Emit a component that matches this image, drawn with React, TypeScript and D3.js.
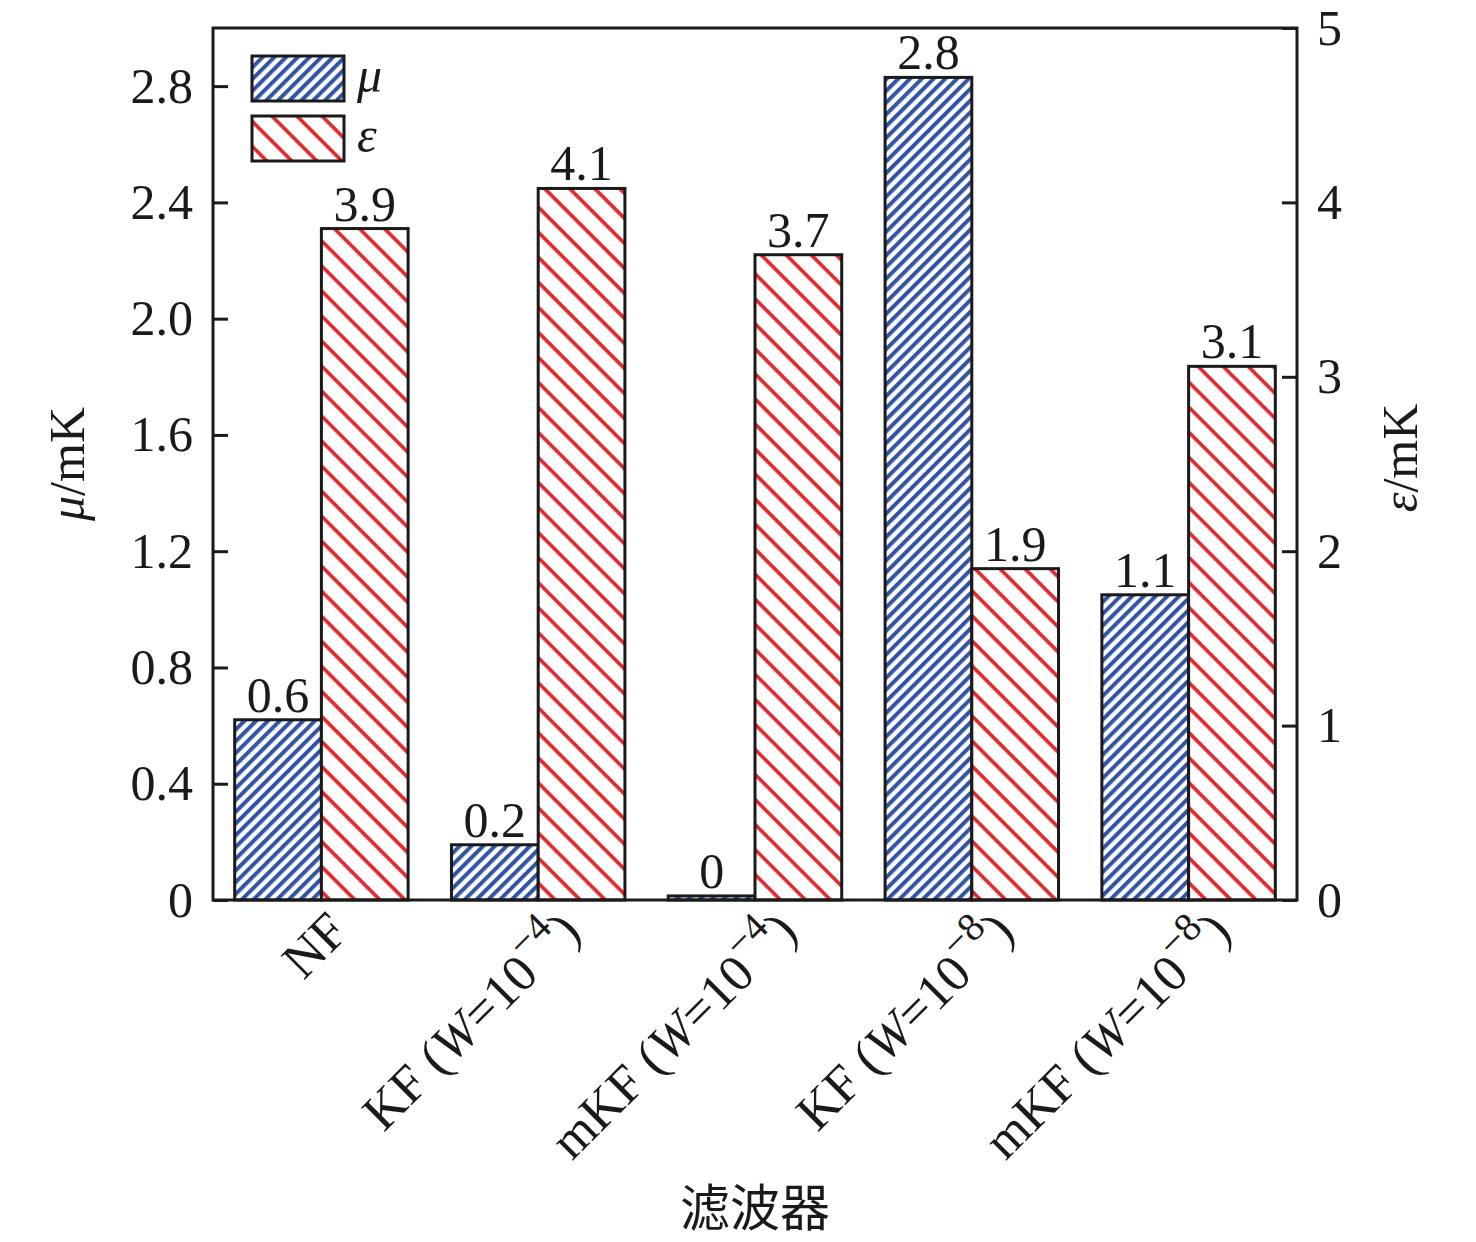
import React, { useEffect, useRef } from 'react';
import * as d3 from 'd3';

// filters on the x axis
const filters = ['NF', 'KF1', 'mKF1', 'KF2', 'mKF2'];
const filterNames = ['NF', 'KF', 'mKF', 'KF', 'mKF'];
const filterExps = ['', '−4', '−4', '−8', '−8'];

// mean error μ (left axis) and its labels
const muValues = [0.62, 0.19, 0.014, 2.83, 1.05];
const muLabels = ['0.6', '0.2', '0', '2.8', '1.1'];

// error ε (right axis) and its labels
const epsValues = [3.85, 4.08, 3.7, 1.9, 3.06];
const epsLabels = ['3.9', '4.1', '3.7', '1.9', '3.1'];

const leftTicks = [0, 0.4, 0.8, 1.2, 1.6, 2.0, 2.4, 2.8];
const rightTicks = [0, 1, 2, 3, 4, 5];

const W = 1476;
const H = 1242;
const margin = { top: 28, right: 179, bottom: 342, left: 213 };
const FONT = '"Liberation Serif", "Times New Roman", serif';
const BLUE = '#3354a5';
const RED = '#e0262a';
const INK = '#1a1a1a';

const App: React.FC = () => {
  const svgRef = useRef<SVGSVGElement>(null);

  useEffect(() => {
    document.body.style.margin = '0';
    if (!svgRef.current) return;
    const svg = d3.select(svgRef.current);
    svg.selectAll('*').remove();

    const x0 = margin.left;
    const x1 = W - margin.right;
    const y0 = H - margin.bottom;
    const y1 = margin.top;

    const xScale = d3.scaleBand<string>().domain(filters).range([x0, x1]).paddingInner(0.2).paddingOuter(0.1);
    const sub = d3.scaleBand<string>().domain(['mu', 'eps']).range([0, xScale.bandwidth()]);
    const yLeft = d3.scaleLinear().domain([0, 3]).range([y0, y1]);
    const yRight = d3.scaleLinear().domain([0, 5]).range([y0, y1]);

    // hatch patterns
    const defs = svg.append('defs');
    const blue = defs.append('pattern')
      .attr('id', 'hatchBlue')
      .attr('patternUnits', 'userSpaceOnUse')
      .attr('width', 8.3).attr('height', 8.3)
      .attr('patternTransform', 'rotate(45)');
    blue.append('rect').attr('width', 8.3).attr('height', 8.3).attr('fill', '#fff');
    blue.append('line').attr('x1', 2).attr('x2', 2).attr('y1', 0).attr('y2', 8.3)
      .attr('stroke', BLUE).attr('stroke-width', 4);

    const red = defs.append('pattern')
      .attr('id', 'hatchRed')
      .attr('patternUnits', 'userSpaceOnUse')
      .attr('width', 17.7).attr('height', 17.7)
      .attr('patternTransform', 'rotate(-45)');
    red.append('rect').attr('width', 17.7).attr('height', 17.7).attr('fill', '#fff');
    red.append('line').attr('x1', 4).attr('x2', 4).attr('y1', 0).attr('y2', 17.7)
      .attr('stroke', RED).attr('stroke-width', 3.6);

    const g = svg.append('g');

    // bars
    filters.forEach((f, i) => {
      const bx = xScale(f)!;
      g.append('rect')
        .attr('x', bx + sub('mu')!)
        .attr('y', yLeft(muValues[i]))
        .attr('width', sub.bandwidth())
        .attr('height', y0 - yLeft(muValues[i]))
        .attr('fill', 'url(#hatchBlue)')
        .attr('stroke', INK).attr('stroke-width', 3);
      g.append('rect')
        .attr('x', bx + sub('eps')!)
        .attr('y', yRight(epsValues[i]))
        .attr('width', sub.bandwidth())
        .attr('height', y0 - yRight(epsValues[i]))
        .attr('fill', 'url(#hatchRed)')
        .attr('stroke', INK).attr('stroke-width', 3);

      g.append('text')
        .attr('x', bx + sub('mu')! + sub.bandwidth() / 2)
        .attr('y', yLeft(muValues[i]) - 8)
        .attr('text-anchor', 'middle')
        .attr('font-family', FONT).attr('font-size', 50).attr('fill', INK)
        .text(muLabels[i]);
      g.append('text')
        .attr('x', bx + sub('eps')! + sub.bandwidth() / 2)
        .attr('y', yRight(epsValues[i]) - 8)
        .attr('text-anchor', 'middle')
        .attr('font-family', FONT).attr('font-size', 50).attr('fill', INK)
        .text(epsLabels[i]);
    });

    // frame
    g.append('rect')
      .attr('x', x0).attr('y', y1)
      .attr('width', x1 - x0).attr('height', y0 - y1)
      .attr('fill', 'none').attr('stroke', INK).attr('stroke-width', 3);

    // left axis, ticks inward
    const la = g.append('g')
      .attr('transform', `translate(${x0},0)`)
      .call(d3.axisLeft(yLeft).tickValues(leftTicks).tickSizeInner(-15).tickSizeOuter(0).tickPadding(20)
        .tickFormat(d => (d === 0 ? '0' : d3.format('.1f')(d as number))));
    la.select('.domain').remove();
    la.selectAll('.tick line').attr('stroke', INK).attr('stroke-width', 3);
    la.selectAll('text').attr('font-family', FONT).attr('font-size', 50).attr('fill', INK);

    // right axis, ticks inward
    const ra = g.append('g')
      .attr('transform', `translate(${x1},0)`)
      .call(d3.axisRight(yRight).tickValues(rightTicks).tickSizeInner(-15).tickSizeOuter(0).tickPadding(20)
        .tickFormat(d3.format('d')));
    ra.select('.domain').remove();
    ra.selectAll('.tick line').attr('stroke', INK).attr('stroke-width', 3);
    ra.selectAll('text').attr('font-family', FONT).attr('font-size', 50).attr('fill', INK);

    // category labels, rotated
    filters.forEach((f, i) => {
      const cx = xScale(f)! + xScale.bandwidth() / 2;
      const t = g.append('text')
        .attr('transform', `translate(${cx + 29},${y0 + 34}) rotate(-45)`)
        .attr('text-anchor', 'end')
        .attr('font-family', FONT).attr('font-size', 52).attr('fill', INK);
      if (!filterExps[i]) {
        t.text(filterNames[i]);
      } else {
        t.attr('dx', 11).attr('dy', 11);
        t.append('tspan').text(`${filterNames[i]} (`);
        t.append('tspan').attr('font-style', 'italic').text('W');
        t.append('tspan').text('=10');
        t.append('tspan').attr('dy', -24).attr('font-size', 40).text(filterExps[i]);
        t.append('tspan').attr('dy', 24).text(')');
      }
    });

    // axis titles
    const lt = g.append('text')
      .attr('transform', `translate(84,${(y0 + y1) / 2}) rotate(-90)`)
      .attr('text-anchor', 'middle')
      .attr('font-family', FONT).attr('font-size', 50).attr('fill', INK);
    lt.append('tspan').attr('font-style', 'italic').text('μ');
    lt.append('tspan').text('/mK');

    const rt = g.append('text')
      .attr('transform', `translate(1417,${(y0 + y1) / 2 - 6}) rotate(-90)`)
      .attr('text-anchor', 'middle')
      .attr('font-family', FONT).attr('font-size', 50).attr('fill', INK);
    rt.append('tspan').attr('font-style', 'italic').text('ε');
    rt.append('tspan').text('/mK');

    g.append('text')
      .attr('x', (x0 + x1) / 2).attr('y', 1226)
      .attr('text-anchor', 'middle')
      .attr('font-family', '"Noto Sans CJK SC", sans-serif').attr('font-size', 50).attr('fill', INK)
      .text('滤波器');

    // legend
    const legend = [
      { key: 'μ', fill: 'url(#hatchBlue)' },
      { key: 'ε', fill: 'url(#hatchRed)' },
    ];
    legend.forEach((l, i) => {
      const ly = 56 + i * 60;
      g.append('rect')
        .attr('x', 252).attr('y', ly).attr('width', 92).attr('height', 45)
        .attr('fill', l.fill).attr('stroke', INK).attr('stroke-width', 3);
      g.append('text')
        .attr('x', 357).attr('y', ly + 36)
        .attr('font-family', FONT).attr('font-style', 'italic').attr('font-size', 50).attr('fill', INK)
        .text(l.key);
    });
  }, []);

  return (
    <div style={{ width: W, height: H, background: '#fff' }}>
      <svg ref={svgRef} width={W} height={H} style={{ display: 'block' }} />
    </div>
  );
};

export default App;
